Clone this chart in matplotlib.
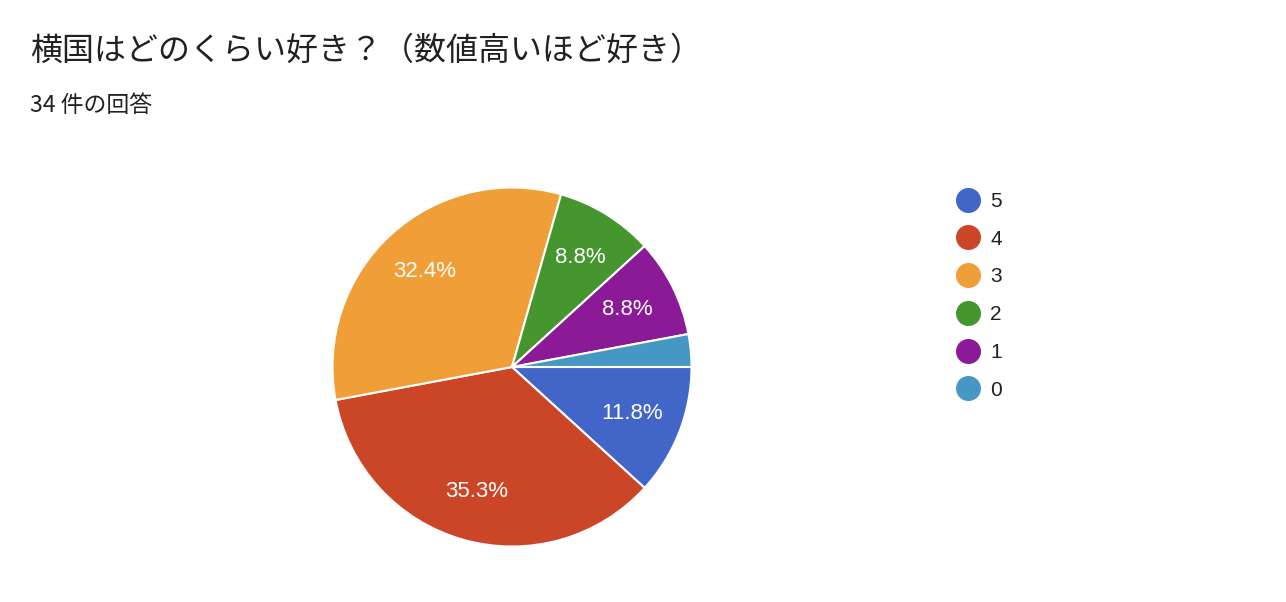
import matplotlib
matplotlib.use("Agg")
import matplotlib.pyplot as plt
from matplotlib.lines import Line2D

plt.rcParams["font.family"] = ["Noto Sans CJK JP", "DejaVu Sans"]

TITLE = "横国はどのくらい好き？（数値高いほど好き）"
SUBTITLE = "34 件の回答"
labels = ["5", "4", "3", "2", "1", "0"]
counts = [4, 12, 11, 3, 3, 1]
colors = ["#4266c7", "#cb4626", "#f09e38", "#45962f", "#8b1a96", "#4698c4"]

W, H = 1286, 602
fig = plt.figure(figsize=(W / 100, H / 100), dpi=100)
fig.patch.set_facecolor("white")

# pie: centre ~ (512, 367) px, radius ~ 179.5 px
r_px = 179.5
cx, cy = 512, 367
ax = fig.add_axes([(cx - r_px) / W, (H - cy - r_px) / H, 2 * r_px / W, 2 * r_px / H])


def _pct(p):
    return f"{p:.1f}%" if p >= 5 else ""


wedges, _, autotexts = ax.pie(
    counts, colors=colors, startangle=0, counterclock=False,
    autopct=_pct, pctdistance=0.72,
    wedgeprops=dict(edgecolor="white", linewidth=1.5),
    textprops=dict(color="white", fontsize=16, family=["Liberation Sans", "DejaVu Sans"]),
)
ax.set_xlim(-1, 1)
ax.set_ylim(-1, 1)
ax.set_aspect("equal")
ax.axis("off")

fig.text(30 / W, 1 - 51 / H, TITLE, fontsize=23, color="#202124", va="center", ha="left")
fig.text(30 / W, 1 - 105 / H, SUBTITLE, fontsize=16.5, color="#202124", va="center", ha="left")

handles = [Line2D([0], [0], marker="o", linestyle="", markersize=17,
                  markerfacecolor=c, markeredgecolor=c) for c in colors]
leg = fig.legend(handles, labels, loc="upper left",
                 bbox_to_anchor=(955 / W, 1 - 192 / H), frameon=False,
                 prop=dict(family=["Liberation Sans", "DejaVu Sans"], size=15),
                 handlelength=1.2, handletextpad=0.5, labelspacing=0.9,
                 borderpad=0, borderaxespad=0)
for t in leg.get_texts():
    t.set_color("#202124")

fig.savefig("out.png", dpi=100, facecolor="white")
